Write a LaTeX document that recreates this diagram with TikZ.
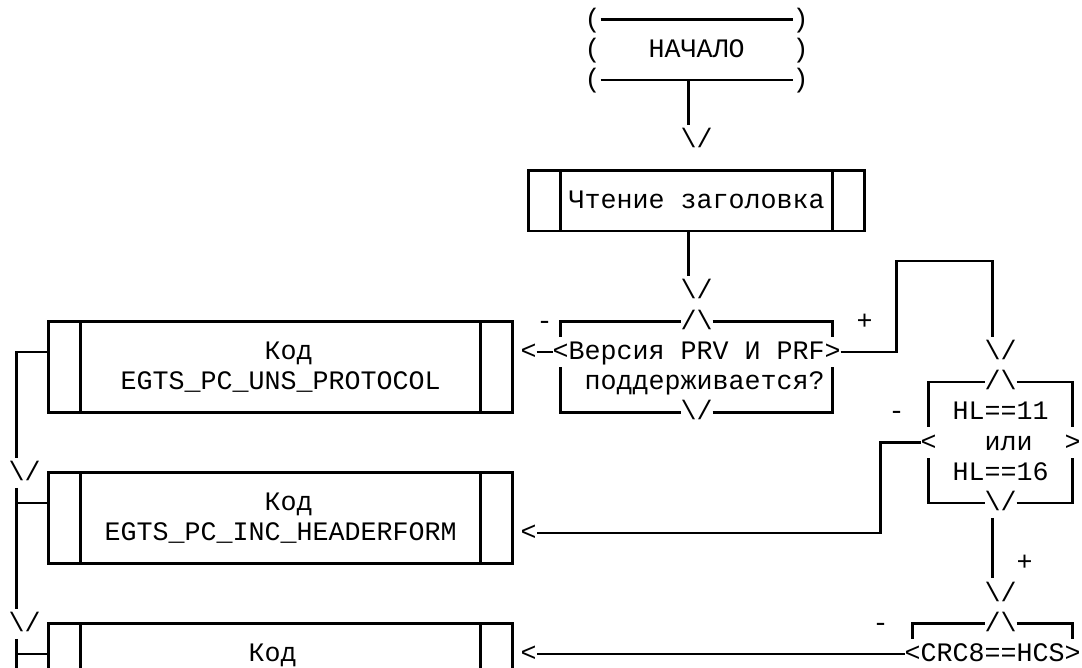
\documentclass[tikz,border=0pt]{standalone}
\usepackage{fontspec}
\newfontfamily\monofont{Liberation Mono}
\begin{document}
\begin{tikzpicture}[x=12pt,y=-22.6575pt,
  cell/.style={font=\monofont\fontsize{20}{24}\selectfont, inner sep=0pt, outer sep=0pt,
    text height=17.03pt, text depth=5.63pt, anchor=center},
  ln/.style={line width=1.9pt, line join=miter},
  pbox/.style={draw, line width=1.9pt, inner sep=0pt, outer sep=0pt,
    path picture={
      \draw[line width=1.9pt] ([xshift=24pt]path picture bounding box.north west) -- ([xshift=24pt]path picture bounding box.south west);
      \draw[line width=1.9pt] ([xshift=-24pt]path picture bounding box.north east) -- ([xshift=-24pt]path picture bounding box.south east);
    }}]
\useasboundingbox[fill=white] (-1.044,-0.6455) rectangle (66.581,21.466);

% ---- start terminal
\node[cell] (pl0) at (36,0) {(};
\node[cell] (pr0) at (49,0) {)};
\node[cell] (pl1) at (36,1) {(};
\node[cell] (start) at (42.5,1) {НАЧАЛО};
\node[cell] (pr1) at (49,1) {)};
\node[cell] (pl2) at (36,2) {(};
\node[cell] (pr2) at (49,2) {)};
\draw[ln] (pl0.east) -- (pr0.west);
\draw[ln] (pl2.east) -- (pr2.west);
\coordinate (j1) at (42,2);
\node[cell] (a1) at (42.5,4) {\textbackslash/};
\draw[ln] (j1) -- (j1 |- a1.north);

% ---- read header
\node[pbox, minimum width=252pt, minimum height=45.315pt] (read) at (42.5,6) {};
\node[cell] (readt) at (42.5,6) {Чтение заголовка};
\coordinate (j2) at (42,7);
\node[cell] (a2) at (42.5,9) {\textbackslash/};
\draw[ln] (j2) -- (j2 |- a2.north);

% ---- decision 1
\node[cell] (d1top) at (42.5,10) {/\textbackslash};
\node[cell] (d1q) at (42.5,11) {<Версия PRV И PRF>};
\node[cell] (d1q2) at (43,12) {поддерживается?};
\node[cell] (d1bot) at (42.5,13) {\textbackslash/};
\coordinate (d1tl) at (34,10);
\coordinate (d1tr) at (51,10);
\draw[ln] (d1top.west) -| (d1tl |- d1q.north);
\draw[ln] (d1top.east) -| (d1tr |- d1q.north);
\draw[ln] (d1bot.west) -| (d1tl |- d1q.south);
\draw[ln] (d1bot.east) -| (d1tr |- d1q.south);
\node[cell] (m1) at (33,10) {-};
\node[cell] (p1) at (53,10) {+};
\node[cell] (ar1) at (32,11) {<};
\draw[ln] (ar1.east) -- (d1q.west);
\coordinate (k1) at (55,8);
\coordinate (k2) at (61,8);
\node[cell] (a3) at (61.5,11) {\textbackslash/};
\draw[ln] (d1q.east) -| (k1) -| (k2 |- a3.north);

% ---- decision 2 (HL)
\node[cell] (d2top) at (61.5,12) {/\textbackslash};
\node[cell] (d2l1) at (61.5,13) {HL==11};
\node[cell] (d2lt) at (57,14) {<};
\node[cell] (d2or) at (62,14) {или};
\node[cell] (d2gt) at (66,14) {>};
\node[cell] (d2l2) at (61.5,15) {HL==16};
\node[cell] (d2bot) at (61.5,16) {\textbackslash/};
\draw[ln] (d2top.west) -| (d2lt.north);
\draw[ln] (d2top.east) -| (d2gt.north);
\draw[ln] (d2bot.west) -| (d2lt.south);
\draw[ln] (d2bot.east) -| (d2gt.south);
\node[cell] (m2) at (55,13) {-};
\node[cell] (ar2) at (32,17) {<};
\coordinate (k3) at (54,17);
\draw[ln] (d2lt.west) -| (k3) -- (ar2.east);
\node[cell] (a4) at (61.5,19) {\textbackslash/};
\draw[ln] ([xshift=-6pt]d2bot.south) -- ([xshift=-6pt]a4.north);
\node[cell] (p2) at (63,18) {+};

% ---- decision 3 (CRC)
\node[cell] (d3top) at (61.5,20) {/\textbackslash};
\node[cell] (d3q) at (61,21) {<CRC8==HCS>};
\draw[ln] (d3top.west) -| ([xshift=6pt]d3q.north west);
\draw[ln] (d3top.east) -| ([xshift=-6pt]d3q.north east);
\node[cell] (m3) at (54,20) {-};
\node[cell] (ar3) at (32,21) {<};
\draw[ln] (d3q.west) -- (ar3.east);

% ---- result boxes
\node[pbox, minimum width=348pt, minimum height=67.9725pt] (b1) at (16.5,11.5) {};
\node[cell] (t1a) at (17,11) {Код};
\node[cell] (t1b) at (16.5,12) {EGTS\_PC\_UNS\_PROTOCOL};
\node[pbox, minimum width=348pt, minimum height=67.9725pt] (b2) at (16.5,16.5) {};
\node[cell] (t2a) at (17,16) {Код};
\node[cell] (t2b) at (16.5,17) {EGTS\_PC\_INC\_HEADERFORM};
\node[pbox, minimum width=348pt, minimum height=67.9725pt] (b3) at (16.5,21.5) {};
\node[cell] (t3a) at (16,21) {Код};

% ---- left trunk
\coordinate (L0) at (0,11);
\coordinate (L1) at (0,16);
\coordinate (L2) at (0,21);
\coordinate (Lend) at (0,22.5);
\node[cell] (a5) at (0.5,15) {\textbackslash/};
\node[cell] (a6) at (0.5,20) {\textbackslash/};
\draw[ln] (b1.west |- L0) -- (L0) -- (L0 |- a5.north);
\draw[ln] (L0 |- a5.south) -- (L0 |- a6.north);
\draw[ln] (L1) -- (b2.west |- L1);
\draw[ln] (L0 |- a6.south) -- (Lend);
\draw[ln] (L2) -- (b3.west |- L2);
\end{tikzpicture}
\end{document}
